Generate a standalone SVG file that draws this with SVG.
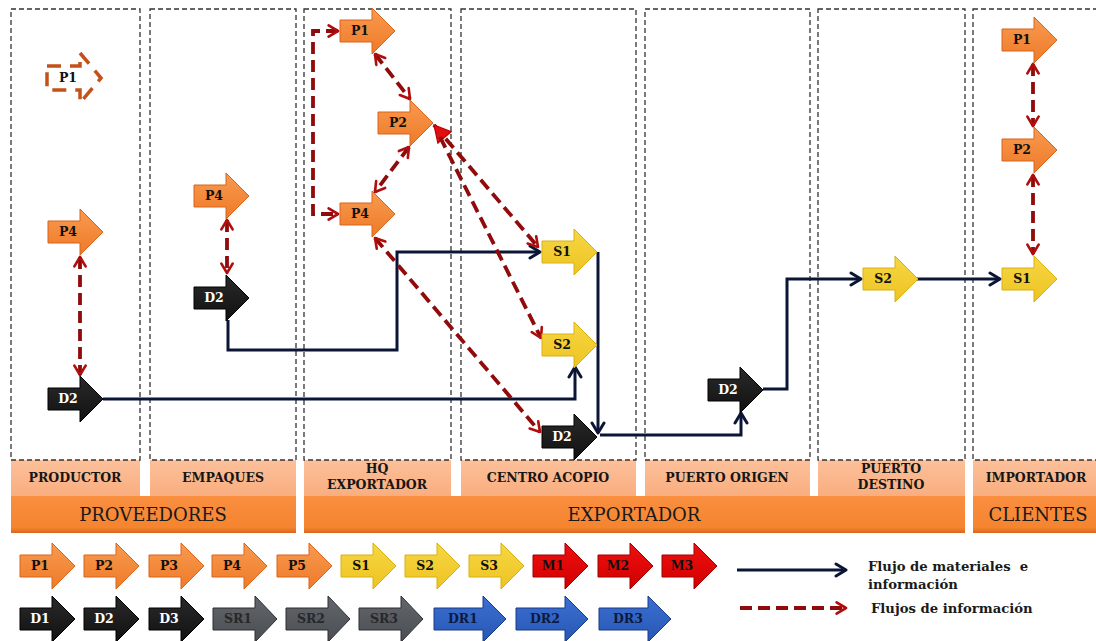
<svg xmlns="http://www.w3.org/2000/svg" xmlns:xlink="http://www.w3.org/1999/xlink" width="1096" height="641" viewBox="0 0 1096 641">
  <style>
    .col { fill: none; stroke: #333333; stroke-width: 1.3; stroke-dasharray: 5 3; }
    .hdr { fill: url(#gHdr); }
    .band { fill: url(#gBand); }
    .p { fill: url(#gP); stroke: #D8651C; stroke-width: 1; }
    .s { fill: url(#gS); stroke: #D9B012; stroke-width: 1; }
    .d { fill: url(#gD); stroke: #000; stroke-width: 1; }
    .m { fill: url(#gM); stroke: #A00000; stroke-width: 1; }
    .sr { fill: url(#gSR); stroke: #2c2e31; stroke-width: 1; }
    .dr { fill: url(#gDR); stroke: #1b3b86; stroke-width: 1; }
    .lbl { font-family: "DejaVu Serif", "Liberation Serif", serif; font-weight: bold; font-size: 12.5px; text-anchor: middle; fill: #111111; }
    .lbl.w { fill: #ffffff; }
    .lbl.g { fill: #26282b; }
    .lbl.b { fill: #0d1a40; }
    .htxt { font-family: "DejaVu Serif", "Liberation Serif", serif; font-weight: bold; font-size: 12.5px; text-anchor: middle; fill: #161616; }
    .btxt { font-family: "DejaVu Serif", "Liberation Serif", serif; font-size: 18px; text-anchor: middle; fill: #1a1a1a; }
    .ltxt { font-family: "DejaVu Serif", "Liberation Serif", serif; font-weight: bold; font-size: 13.2px; fill: #1a1a1a; }
    .mat { fill: none; stroke: #0b1636; stroke-width: 3; stroke-linejoin: miter; marker-end: url(#mNavy); }
    .inf { fill: none; stroke: #900b0b; stroke-width: 3.8; stroke-dasharray: 12 6; }
    .both { marker-start: url(#mRed); marker-end: url(#mRed); }
    .end { marker-end: url(#mRed); }
  </style>
  <defs>
    <linearGradient id="gHdr" x1="0" y1="0" x2="0" y2="1">
      <stop offset="0" stop-color="#FCC09A"/>
      <stop offset="1" stop-color="#F9AE7F"/>
    </linearGradient>
    <linearGradient id="gBand" x1="0" y1="0" x2="0" y2="1">
      <stop offset="0" stop-color="#F98F40"/>
      <stop offset="0.85" stop-color="#F5842F"/>
      <stop offset="1" stop-color="#D9661C"/>
    </linearGradient>
    <linearGradient id="gP" x1="0" y1="0" x2="0" y2="1">
      <stop offset="0" stop-color="#F99A50"/>
      <stop offset="1" stop-color="#EE7A28"/>
    </linearGradient>
    <linearGradient id="gS" x1="0" y1="0" x2="0" y2="1">
      <stop offset="0" stop-color="#F7D743"/>
      <stop offset="1" stop-color="#EDC322"/>
    </linearGradient>
    <linearGradient id="gD" x1="0" y1="0" x2="0" y2="1">
      <stop offset="0" stop-color="#2a2a2a"/>
      <stop offset="1" stop-color="#111111"/>
    </linearGradient>
    <linearGradient id="gM" x1="0" y1="0" x2="0" y2="1">
      <stop offset="0" stop-color="#F01010"/>
      <stop offset="1" stop-color="#D00000"/>
    </linearGradient>
    <linearGradient id="gSR" x1="0" y1="0" x2="0" y2="1">
      <stop offset="0" stop-color="#63666b"/>
      <stop offset="1" stop-color="#4a4d52"/>
    </linearGradient>
    <linearGradient id="gDR" x1="0" y1="0" x2="0" y2="1">
      <stop offset="0" stop-color="#3a6fd0"/>
      <stop offset="1" stop-color="#2857b5"/>
    </linearGradient>
    <!-- block arrow shapes, origin at body left / vertical centre -->
    <path id="arw" d="M0,-11 H32 V-23 L55,0 L32,23 V11 H0 Z"/>
    <path id="arwW" d="M0,-11 H42 V-23 L64,0 L42,23 V11 H0 Z"/>
    <path id="arwX" d="M0,-11 H49 V-23 L72,0 L49,23 V11 H0 Z"/>
    <marker id="mNavy" viewBox="0 0 16 16" refX="14" refY="8" markerWidth="16" markerHeight="16" markerUnits="userSpaceOnUse" orient="auto-start-reverse">
      <path d="M4,2 L14,8 L4,14" fill="none" stroke="#0b1636" stroke-width="3" stroke-linecap="round" stroke-linejoin="round"/>
    </marker>
    <marker id="mRed" viewBox="0 0 16 16" refX="14" refY="8" markerWidth="15" markerHeight="15" markerUnits="userSpaceOnUse" orient="auto-start-reverse">
      <path d="M4,2 L14,8 L4,14" fill="none" stroke="#B00E0E" stroke-width="2.8" stroke-linecap="round" stroke-linejoin="round"/>
    </marker>
    <marker id="mRedFill" viewBox="0 0 16 16" refX="14" refY="8" markerWidth="20" markerHeight="20" markerUnits="userSpaceOnUse" orient="auto-start-reverse">
      <path d="M1,1 L14,8 L1,15 Z" fill="#E01010" stroke="#C00000" stroke-width="1"/>
    </marker>
  </defs>

  <rect width="1096" height="641" fill="#ffffff"/>

  <!-- header cells -->
  <g id="headers">
    <rect class="hdr" x="11" y="460" width="129" height="36"/>
    <rect class="hdr" x="150" y="460" width="146" height="36"/>
    <rect class="hdr" x="304" y="460" width="147" height="36"/>
    <rect class="hdr" x="461" y="460" width="175" height="36"/>
    <rect class="hdr" x="645" y="460" width="165" height="36"/>
    <rect class="hdr" x="818" y="460" width="147" height="36"/>
    <rect class="hdr" x="973" y="460" width="130" height="36"/>
    <text class="htxt" x="75" y="482">PRODUCTOR</text>
    <text class="htxt" x="223" y="482">EMPAQUES</text>
    <text class="htxt" x="377" y="473">HQ</text>
    <text class="htxt" x="377" y="489">EXPORTADOR</text>
    <text class="htxt" x="548" y="482">CENTRO ACOPIO</text>
    <text class="htxt" x="727" y="482">PUERTO ORIGEN</text>
    <text class="htxt" x="891" y="473">PUERTO</text>
    <text class="htxt" x="891" y="489">DESTINO</text>
    <text class="htxt" x="1036" y="482">IMPORTADOR</text>
  </g>

  <!-- group bands -->
  <g id="bands">
    <rect class="band" x="11" y="496" width="285" height="37"/>
    <rect class="band" x="304" y="496" width="661" height="37"/>
    <rect class="band" x="973" y="496" width="130" height="37"/>
    <text class="btxt" x="153" y="521">PROVEEDORES</text>
    <text class="btxt" x="634" y="521">EXPORTADOR</text>
    <text class="btxt" x="1038" y="521">CLIENTES</text>
  </g>

  <!-- swimlane columns -->
  <g id="lanes">
    <rect class="col" x="11" y="9" width="129" height="451"/>
    <rect class="col" x="150" y="9" width="146" height="451"/>
    <rect class="col" x="304" y="9" width="147" height="451"/>
    <rect class="col" x="461" y="9" width="175" height="451"/>
    <rect class="col" x="645" y="9" width="165" height="451"/>
    <rect class="col" x="818" y="9" width="147" height="451"/>
    <rect class="col" x="973" y="9" width="130" height="451"/>
  </g>

  <!-- connectors -->
  <g id="connectors">
    <!-- material and information flow -->
    <path class="mat" d="M228,320 V350 H397 V252 H540"/>
    <path class="mat" d="M103,399 H575 V367"/>
    <path class="mat" d="M598,252 V433"/>
    <path class="mat" d="M600,435 H741 V413"/>
    <path class="mat" d="M763,389 H787 V279 H861"/>
    <path class="mat" d="M917,279 H1000"/>
    <!-- information flow -->
    <path class="inf both" d="M80,257 V375"/>
    <path class="inf both" d="M227,220 V273"/>
    <path class="inf both" d="M338,31 H313 V214 H338"/>
    <path class="inf both" d="M375,54 L410,99"/>
    <path class="inf both" d="M409,147 L375,192"/>
    <path class="inf end" d="M434,125 L538,247" marker-start="url(#mRedFill)"/>
    <path class="inf end" d="M440,137 L541,338"/>
    <path class="inf both" d="M375,238 L540,432"/>
    <path class="inf both" d="M1033,64 V126"/>
    <path class="inf both" d="M1033,175 V254"/>
  </g>

  <!-- PRODUCTOR -->
  <g id="prod-p1">
    <path d="M47,66 H80 V53 L101,78 L80,103 V90 H47 Z" fill="none" stroke="#C4511A" stroke-width="3.5" stroke-dasharray="14 9"/>
    <text class="lbl" x="68" y="82">P1</text>
  </g>
  <g id="prod-p4" transform="translate(48,232)"><use href="#arw" class="p"/><text class="lbl" x="20" y="4">P4</text></g>
  <g id="prod-d2" transform="translate(48,399)"><use href="#arw" class="d"/><text class="lbl w" x="20" y="4">D2</text></g>

  <!-- EMPAQUES -->
  <g id="emp-p4" transform="translate(194,196)"><use href="#arw" class="p"/><text class="lbl" x="20" y="4">P4</text></g>
  <g id="emp-d2" transform="translate(194,298)"><use href="#arw" class="d"/><text class="lbl w" x="20" y="4">D2</text></g>

  <!-- HQ EXPORTADOR -->
  <g id="hq-p1" transform="translate(340,31)"><use href="#arw" class="p"/><text class="lbl" x="20" y="4">P1</text></g>
  <g id="hq-p2" transform="translate(378,123)"><use href="#arw" class="p"/><text class="lbl" x="20" y="4">P2</text></g>
  <g id="hq-p4" transform="translate(340,214)"><use href="#arw" class="p"/><text class="lbl" x="20" y="4">P4</text></g>

  <!-- CENTRO ACOPIO -->
  <g id="ca-s1" transform="translate(542,252)"><use href="#arw" class="s"/><text class="lbl" x="20" y="4">S1</text></g>
  <g id="ca-s2" transform="translate(542,345)"><use href="#arw" class="s"/><text class="lbl" x="20" y="4">S2</text></g>
  <g id="ca-d2" transform="translate(542,437)"><use href="#arw" class="d"/><text class="lbl w" x="20" y="4">D2</text></g>

  <!-- PUERTO ORIGEN -->
  <g id="po-d2" transform="translate(708,390)"><use href="#arw" class="d"/><text class="lbl w" x="20" y="4">D2</text></g>

  <!-- PUERTO DESTINO -->
  <g id="pd-s2" transform="translate(863,279)"><use href="#arw" class="s"/><text class="lbl" x="20" y="4">S2</text></g>

  <!-- IMPORTADOR -->
  <g id="imp-p1" transform="translate(1002,40)"><use href="#arw" class="p"/><text class="lbl" x="20" y="4">P1</text></g>
  <g id="imp-p2" transform="translate(1002,150)"><use href="#arw" class="p"/><text class="lbl" x="20" y="4">P2</text></g>
  <g id="imp-s1" transform="translate(1002,279)"><use href="#arw" class="s"/><text class="lbl" x="20" y="4">S1</text></g>

  <!-- legend -->
  <g id="legend">
    <g transform="translate(20,566)"><use href="#arw" class="p"/><text class="lbl" x="20" y="4">P1</text></g>
    <g transform="translate(84,566)"><use href="#arw" class="p"/><text class="lbl" x="20" y="4">P2</text></g>
    <g transform="translate(149,566)"><use href="#arw" class="p"/><text class="lbl" x="20" y="4">P3</text></g>
    <g transform="translate(212,566)"><use href="#arw" class="p"/><text class="lbl" x="20" y="4">P4</text></g>
    <g transform="translate(277,566)"><use href="#arw" class="p"/><text class="lbl" x="20" y="4">P5</text></g>
    <g transform="translate(341,566)"><use href="#arw" class="s"/><text class="lbl" x="20" y="4">S1</text></g>
    <g transform="translate(405,566)"><use href="#arw" class="s"/><text class="lbl" x="20" y="4">S2</text></g>
    <g transform="translate(469,566)"><use href="#arw" class="s"/><text class="lbl" x="20" y="4">S3</text></g>
    <g transform="translate(533,566)"><use href="#arw" class="m"/><text class="lbl" x="20" y="4">M1</text></g>
    <g transform="translate(598,566)"><use href="#arw" class="m"/><text class="lbl" x="20" y="4">M2</text></g>
    <g transform="translate(662,566)"><use href="#arw" class="m"/><text class="lbl" x="20" y="4">M3</text></g>

    <g transform="translate(20,619)"><use href="#arw" class="d"/><text class="lbl w" x="20" y="4">D1</text></g>
    <g transform="translate(84,619)"><use href="#arw" class="d"/><text class="lbl w" x="20" y="4">D2</text></g>
    <g transform="translate(149,619)"><use href="#arw" class="d"/><text class="lbl w" x="20" y="4">D3</text></g>
    <g transform="translate(213,619)"><use href="#arwW" class="sr"/><text class="lbl g" x="25" y="4">SR1</text></g>
    <g transform="translate(286,619)"><use href="#arwW" class="sr"/><text class="lbl g" x="25" y="4">SR2</text></g>
    <g transform="translate(359,619)"><use href="#arwW" class="sr"/><text class="lbl g" x="25" y="4">SR3</text></g>
    <g transform="translate(434,619)"><use href="#arwX" class="dr"/><text class="lbl b" x="29" y="4">DR1</text></g>
    <g transform="translate(516,619)"><use href="#arwX" class="dr"/><text class="lbl b" x="29" y="4">DR2</text></g>
    <g transform="translate(599,619)"><use href="#arwX" class="dr"/><text class="lbl b" x="29" y="4">DR3</text></g>

    <path class="mat" d="M737,570 H846"/>
    <text class="ltxt" x="868" y="571" xml:space="preserve">Flujo de materiales  e</text>
    <text class="ltxt" x="868" y="589">información</text>
    <path class="inf end" d="M740,608 H846"/>
    <text class="ltxt" x="871" y="613">Flujos de información</text>
  </g>
</svg>
